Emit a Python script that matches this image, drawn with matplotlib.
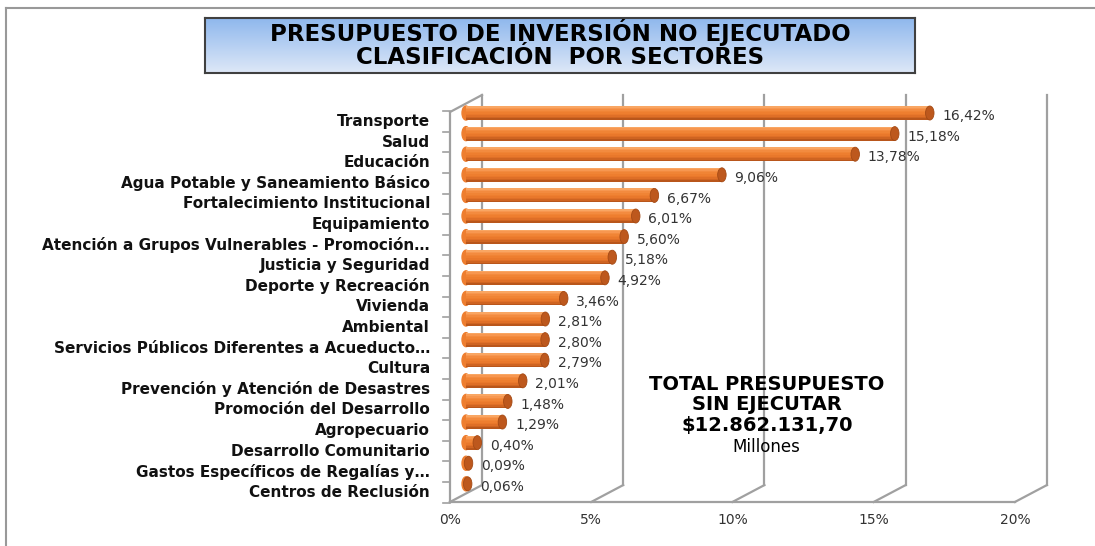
import numpy as np
import matplotlib
matplotlib.use('Agg')
import matplotlib.pyplot as plt
from matplotlib.patches import Ellipse
from matplotlib.lines import Line2D

# datos
categorias = ['Transporte', 'Salud', 'Educación', 'Agua Potable y Saneamiento Básico',
              'Fortalecimiento Institucional', 'Equipamiento',
              'Atención a Grupos Vulnerables - Promoción…', 'Justicia y Seguridad',
              'Deporte y Recreación', 'Vivienda', 'Ambiental',
              'Servicios Públicos Diferentes a Acueducto…', 'Cultura',
              'Prevención y Atención de Desastres', 'Promoción del Desarrollo',
              'Agropecuario', 'Desarrollo Comunitario',
              'Gastos Específicos de Regalías y…', 'Centros de Reclusión']
porcentajes = [16.42, 15.18, 13.78, 9.06, 6.67, 6.01, 5.60, 5.18, 4.92, 3.46,
               2.81, 2.80, 2.79, 2.01, 1.48, 1.29, 0.40, 0.09, 0.06]
ticks_x = [0, 5, 10, 15, 20]
tick_labels = ['0%', '5%', '10%', '15%', '20%']
titulo = ['PRESUPUESTO DE INVERSIÓN NO EJECUTADO', 'CLASIFICACIÓN  POR SECTORES']
total_txt = ['TOTAL PRESUPUESTO', 'SIN EJECUTAR', '$12.862.131,70']

plt.rcParams['font.family'] = ['DejaVu Sans']

W, H = 1095, 546
fig = plt.figure(figsize=(W / 100, H / 100), dpi=100)

# ejes principales (porcentaje en x, indice de categoria en y)
ax = fig.add_axes([440 / W, 1 - 510 / H, 620 / W, 420 / H])
ax.set_xlim(-0.920, 21.03)
ax.set_ylim(19.27, -1.117)
ax.axis('off')

dx = 0.566   # profundidad en x
dy = 0.413   # profundidad en y
top = -0.874
piso_atras = 18.06
piso_frente = 18.88
gris = '#a0a0a0'

# pared del fondo y piso
for t in ticks_x:
    ax.plot([t + dx, t + dx], [top, piso_atras], color=gris, lw=1.6, zorder=1)
    ax.plot([t + dx, t - dx], [piso_atras, piso_frente], color=gris, lw=1.6, zorder=1)
ax.plot([-dx, ticks_x[-1] - dx], [piso_frente, piso_frente], color=gris, lw=1.6, zorder=1)
# pared izquierda
ax.plot([-dx, -dx], [top + 2 * dy, piso_frente], color=gris, lw=1.6, zorder=1)
ax.plot([-dx, dx], [top + 2 * dy, top], color=gris, lw=1.6, zorder=1)
for k in range(len(categorias) + 1):
    yy = k - 0.5 + dy
    ax.plot([-dx - 0.25, -dx], [yy, yy], color=gris, lw=1.2, zorder=1)

# barras cilindricas: franjas de arriba (claro) a abajo (oscuro)
y = np.arange(len(categorias))
h = 0.68
franjas = ['#f9a663', '#f79750', '#f38b3f', '#f08435', '#ee7e2f', '#e9782b',
           '#df6f27', '#cf6421', '#b9561b']
n = len(franjas)
fh = h / n
for j, c in enumerate(franjas):
    off = -h / 2 + fh * (j + 0.5)
    ax.barh(y + off, porcentajes, height=fh * 1.05, color=c, lw=0, zorder=3)
for i, v in enumerate(porcentajes):
    ax.add_patch(Ellipse((0, i), 0.28, h, color='#ee7e2f', zorder=2.9))
    ax.add_patch(Ellipse((v, i), 0.3, h, facecolor='#bd581d', edgecolor='#a44a15',
                         lw=0.6, zorder=5))
    ax.text(v + 0.45, i + 0.15, f'{v:.2f}%'.replace('.', ','), fontsize=10,
            color='#333333', va='center', ha='left', zorder=6)
    ax.text(-1.274, i + dy, categorias[i], fontsize=11, fontweight='bold',
            color='#111111', va='center', ha='right')

for t, lab in zip(ticks_x, tick_labels):
    ax.text(t - dx, 19.76, lab, fontsize=10, color='#333333', ha='center', va='center')

# texto del total
for yy, s in zip([13.16, 14.17, 15.15], total_txt):
    ax.text(10.65, yy, s, fontsize=14, fontweight='bold', color='#000000',
            ha='center', va='center', zorder=6)
ax.text(10.65, 16.21, 'Millones', fontsize=12, color='#000000',
        ha='center', va='center', zorder=6)

# caja del titulo con degradado
tax = fig.add_axes([205 / W, 1 - 73 / H, 710 / W, 55 / H])
grad = np.linspace(0, 1, 100).reshape(-1, 1)
c1 = np.array([0.56, 0.72, 0.93])
c2 = np.array([0.87, 0.91, 0.97])
img = c1 + (c2 - c1) * grad[:, :, None]
tax.imshow(img, aspect='auto', extent=[0, 1, 0, 1])
tax.set_xticks([])
tax.set_yticks([])
for s in tax.spines.values():
    s.set_color('#404040')
    s.set_linewidth(1.5)
fig.text(560 / W, 1 - 33 / H, titulo[0], fontsize=16.5, fontweight='bold',
         ha='center', va='center')
fig.text(560 / W, 1 - 58 / H, titulo[1], fontsize=16.5, fontweight='bold',
         ha='center', va='center')

# borde exterior
fig.add_artist(Line2D([6 / W, 1], [1 - 8 / H, 1 - 8 / H], color='#999999', lw=1.5))
fig.add_artist(Line2D([6 / W, 6 / W], [0, 1 - 8 / H], color='#999999', lw=1.5))

fig.savefig('out.png', dpi=100)
